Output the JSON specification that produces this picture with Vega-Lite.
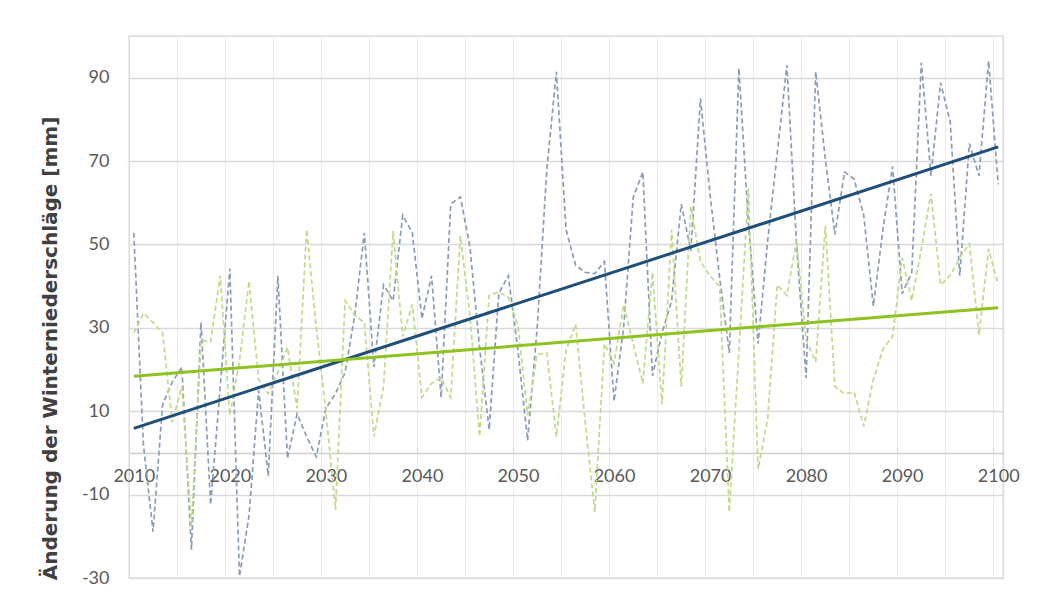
{
  "$schema": "https://vega.github.io/schema/vega-lite/v6.json",
  "width": 874,
  "height": 542,
  "autosize": {"type": "none"},
  "padding": {"left": 129, "top": 36, "right": 35, "bottom": 22},
  "background": "#ffffff",
  "config": {
    "view": {"stroke": "#d4d4d4", "strokeWidth": 1.3},
    "font": "Lato",
    "axis": {"labelFont": "Lato", "labelFontSize": 18, "labelColor": "#595959"}
  },
  "datasets": {
    "jahre": [
      {"jahr": 2010, "A": 52.8, "B": 28.8},
      {"jahr": 2011, "A": 2, "B": 33.5},
      {"jahr": 2012, "A": -18.9, "B": 31.3},
      {"jahr": 2013, "A": 11.6, "B": 28.8},
      {"jahr": 2014, "A": 17, "B": 7.3},
      {"jahr": 2015, "A": 20.6, "B": 15.9},
      {"jahr": 2016, "A": -23.2, "B": -17.6},
      {"jahr": 2017, "A": 31.3, "B": 27},
      {"jahr": 2018, "A": -12.4, "B": 26.6},
      {"jahr": 2019, "A": 15.9, "B": 42.5},
      {"jahr": 2020, "A": 44.2, "B": 9},
      {"jahr": 2021, "A": -29.6, "B": 22},
      {"jahr": 2022, "A": -15, "B": 41.2},
      {"jahr": 2023, "A": 15, "B": 17.6},
      {"jahr": 2024, "A": -5.5, "B": 14.2},
      {"jahr": 2025, "A": 42.5, "B": 19.3},
      {"jahr": 2026, "A": -1.3, "B": 25.3},
      {"jahr": 2027, "A": 9.4, "B": 10.7},
      {"jahr": 2028, "A": 3.9, "B": 53.6},
      {"jahr": 2029, "A": -0.9, "B": 30},
      {"jahr": 2030, "A": 10.7, "B": 10},
      {"jahr": 2031, "A": 14.2, "B": -13.7},
      {"jahr": 2032, "A": 19.3, "B": 36.5},
      {"jahr": 2033, "A": 33, "B": 33},
      {"jahr": 2034, "A": 52.8, "B": 31.3},
      {"jahr": 2035, "A": 20.6, "B": 3.9},
      {"jahr": 2036, "A": 40.3, "B": 15.9},
      {"jahr": 2037, "A": 36.5, "B": 53.2},
      {"jahr": 2038, "A": 57, "B": 27.9},
      {"jahr": 2039, "A": 52.8, "B": 35.6},
      {"jahr": 2040, "A": 32.2, "B": 13.3},
      {"jahr": 2041, "A": 42.5, "B": 16.7},
      {"jahr": 2042, "A": 13.3, "B": 18},
      {"jahr": 2043, "A": 59.7, "B": 13.3},
      {"jahr": 2044, "A": 61.4, "B": 52},
      {"jahr": 2045, "A": 49.4, "B": 33},
      {"jahr": 2046, "A": 25.3, "B": 3.9},
      {"jahr": 2047, "A": 5.6, "B": 37.8},
      {"jahr": 2048, "A": 38.2, "B": 38.6},
      {"jahr": 2049, "A": 42.5, "B": 37.3},
      {"jahr": 2050, "A": 24.5, "B": 30.5},
      {"jahr": 2051, "A": 3, "B": 9},
      {"jahr": 2052, "A": 30, "B": 23.6},
      {"jahr": 2053, "A": 68, "B": 24},
      {"jahr": 2054, "A": 91.4, "B": 3.9},
      {"jahr": 2055, "A": 53.6, "B": 24.5},
      {"jahr": 2056, "A": 45, "B": 30.9},
      {"jahr": 2057, "A": 43.3, "B": 7.3},
      {"jahr": 2058, "A": 43, "B": -14.2},
      {"jahr": 2059, "A": 45.9, "B": 26.2},
      {"jahr": 2060, "A": 12.4, "B": 21.5},
      {"jahr": 2061, "A": 30, "B": 35.6},
      {"jahr": 2062, "A": 61.3, "B": 26.2},
      {"jahr": 2063, "A": 67.4, "B": 16.7},
      {"jahr": 2064, "A": 18.5, "B": 43.3},
      {"jahr": 2065, "A": 28.8, "B": 11.6},
      {"jahr": 2066, "A": 36.5, "B": 53.6},
      {"jahr": 2067, "A": 59.7, "B": 15.9},
      {"jahr": 2068, "A": 48.5, "B": 59.2},
      {"jahr": 2069, "A": 85, "B": 45.9},
      {"jahr": 2070, "A": 62, "B": 42.5},
      {"jahr": 2071, "A": 42, "B": 39.9},
      {"jahr": 2072, "A": 24, "B": -14.2},
      {"jahr": 2073, "A": 92.3, "B": 24.5},
      {"jahr": 2074, "A": 55, "B": 63.5},
      {"jahr": 2075, "A": 26.2, "B": -3.9},
      {"jahr": 2076, "A": 51, "B": 8.2},
      {"jahr": 2077, "A": 72, "B": 40.3},
      {"jahr": 2078, "A": 93, "B": 37.8},
      {"jahr": 2079, "A": 50, "B": 51},
      {"jahr": 2080, "A": 18, "B": 27},
      {"jahr": 2081, "A": 91.4, "B": 21.9},
      {"jahr": 2082, "A": 70.5, "B": 54.5},
      {"jahr": 2083, "A": 52.4, "B": 15.9},
      {"jahr": 2084, "A": 67.4, "B": 14.2},
      {"jahr": 2085, "A": 65.7, "B": 14.6},
      {"jahr": 2086, "A": 57, "B": 6.4},
      {"jahr": 2087, "A": 35.2, "B": 17.6},
      {"jahr": 2088, "A": 53.6, "B": 24.9},
      {"jahr": 2089, "A": 68.7, "B": 27.9},
      {"jahr": 2090, "A": 38.2, "B": 46.8},
      {"jahr": 2091, "A": 43.3, "B": 36.5},
      {"jahr": 2092, "A": 93.6, "B": 49},
      {"jahr": 2093, "A": 66.5, "B": 62.2},
      {"jahr": 2094, "A": 88.8, "B": 40.3},
      {"jahr": 2095, "A": 79.4, "B": 42.5},
      {"jahr": 2096, "A": 42.5, "B": 46.8},
      {"jahr": 2097, "A": 74.2, "B": 50.2},
      {"jahr": 2098, "A": 66.5, "B": 28.3},
      {"jahr": 2099, "A": 94, "B": 48.9},
      {"jahr": 2100, "A": 64.4, "B": 40.3}
    ],
    "trend": [
      {"jahr": 2010, "A": 5.9, "B": 18.4},
      {"jahr": 2100, "A": 73.4, "B": 34.8}
    ]
  },
  "encoding": {
    "y": {
      "field": "wert",
      "type": "quantitative",
      "scale": {"domain": [-30, 100], "nice": false, "zero": false},
      "axis": {
        "values": [-30, -10, 10, 30, 50, 70, 90],
        "labelExpr": "datum.value < 0 ? '-' + abs(datum.value) : '' + datum.value",
        "grid": true,
        "gridColor": "#d9d9d9",
        "gridWidth": 1.3,
        "domain": false,
        "ticks": false,
        "labelPadding": 20,
        "title": "Änderung der Winterniederschläge [mm]",
        "titleFont": "DejaVu Sans",
        "titleFontSize": 20,
        "titleFontWeight": "bold",
        "titleColor": "#404040",
        "titleAngle": 270,
        "titleAlign": "center",
        "titleBaseline": "alphabetic",
        "titleX": -73,
        "titleY": 312
      }
    }
  },
  "layer": [
    {
      "data": {"name": "jahre"},
      "transform": [{"fold": ["A", "B"], "as": ["reihe", "wert"]}],
      "mark": {"type": "line", "strokeWidth": 1.7, "strokeDash": [5, 3]},
      "encoding": {
        "x": {
          "field": "jahr",
          "type": "quantitative",
          "scale": {"domain": [2009.5, 2100.5], "nice": false, "zero": false},
          "axis": {
            "orient": "bottom",
            "values": [2014.5, 2019.5, 2024.5, 2029.5, 2034.5, 2039.5, 2044.5, 2049.5, 2054.5, 2059.5, 2064.5, 2069.5, 2074.5, 2079.5, 2084.5, 2089.5, 2094.5, 2099.5],
            "grid": true,
            "gridColor": "#ececec",
            "gridWidth": 1,
            "labels": false,
            "ticks": false,
            "domain": false,
            "title": null
          }
        },
        "color": {
          "field": "reihe",
          "type": "nominal",
          "scale": {"domain": ["A", "B"], "range": ["#8a9db6", "#bfdb88"]},
          "legend": null
        }
      }
    },
    {
      "data": {"name": "trend"},
      "transform": [{"fold": ["A", "B"], "as": ["reihe", "wert"]}],
      "mark": {"type": "line", "strokeWidth": 3},
      "encoding": {
        "x": {
          "field": "jahr",
          "type": "quantitative",
          "scale": {"domain": [2009.5, 2100.5], "nice": false, "zero": false},
          "axis": {
            "orient": "bottom",
            "offset": -125,
            "values": [2010, 2020, 2030, 2040, 2050, 2060, 2070, 2080, 2090, 2100],
            "format": "d",
            "grid": false,
            "domain": true,
            "domainColor": "#cfcfcf",
            "domainWidth": 1.3,
            "ticks": true,
            "tickColor": "#cfcfcf",
            "tickSize": -6,
            "tickOffset": -4.8,
            "labelOffset": 4.8,
            "labelPadding": 20,
            "labelFlush": false,
            "labelOverlap": false,
            "title": null
          }
        },
        "color": {
          "field": "reihe",
          "type": "nominal",
          "scale": {"domain": ["A", "B"], "range": ["#1f4e79", "#8dc21f"]},
          "legend": null
        }
      }
    }
  ],
  "resolve": {"scale": {"color": "independent"}, "axis": {"x": "independent"}}
}
